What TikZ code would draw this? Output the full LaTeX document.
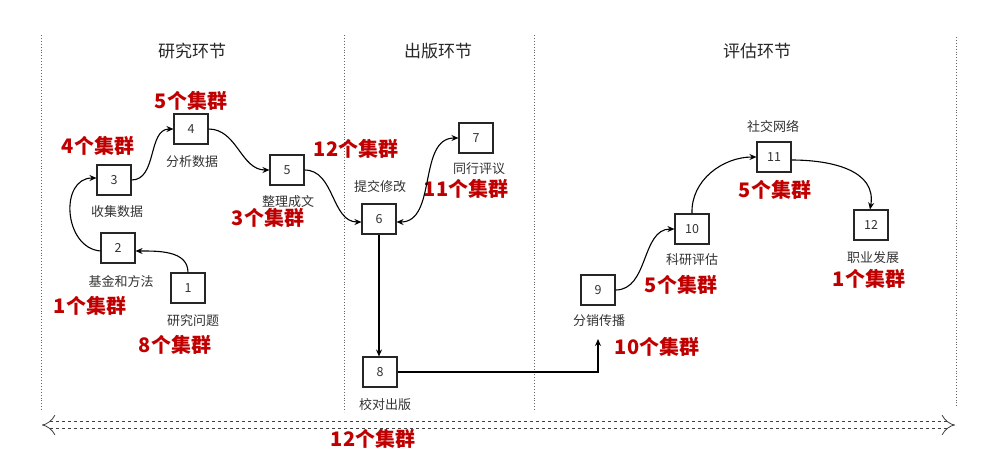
\documentclass[tikz,border=0pt]{standalone}
\usepackage{fontspec}
\setmainfont{Noto Sans CJK SC}
\usetikzlibrary{arrows.meta}
\definecolor{cred}{HTML}{C00000}
\definecolor{cgray}{HTML}{333333}
\begin{document}
\begin{tikzpicture}[x=1pt,y=-1pt,
  box/.style={draw=black!85,line width=1.1pt,minimum width=34pt,minimum height=30pt,inner sep=0pt,font=\fontsize{12.5}{12.5}\selectfont,text=cgray},
  lab/.style={font=\fontsize{13}{13}\selectfont,text=cgray,inner sep=0pt},
  red/.style={font=\fontsize{20}{20}\bfseries\selectfont,text=cred,inner sep=0pt},
  head/.style={font=\fontsize{17}{17}\selectfont,text=black!85,inner sep=0pt},
  sep/.style={draw=black!60,dotted,line width=0.9pt},
  arr/.style={-{Stealth[length=7pt,width=6pt]},line width=1.1pt,black}
]
\useasboundingbox (0,0) rectangle (993,459);
\fill[white] (0,0) rectangle (993,459);
% separators
\coordinate (s1a) at (41,35); \coordinate (s1b) at (41,410);
\coordinate (s2a) at (344,35); \coordinate (s2b) at (344,412);
\coordinate (s3a) at (534,35); \coordinate (s3b) at (534,412);
\coordinate (s4a) at (956,37); \coordinate (s4b) at (956,407);
\draw[sep] (s1a) -- (s1b);
\draw[sep] (s2a) -- (s2b);
\draw[sep] (s3a) -- (s3b);
\draw[sep] (s4a) -- (s4b);
% headers
\node[head] (h1) at (192,51) {研究环节};
\node[head] (h2) at (438,51) {出版环节};
\node[head] (h3) at (757,51) {评估环节};
% boxes
\node[box] (n1) at (188,288) {1};
\node[box] (n2) at (118,248) {2};
\node[box] (n3) at (114,180) {3};
\node[box] (n4) at (191,129) {4};
\node[box] (n5) at (287,170) {5};
\node[box] (n6) at (379,219) {6};
\node[box] (n7) at (476,138) {7};
\node[box] (n8) at (380,372) {8};
\node[box] (n9) at (598,290) {9};
\node[box] (n10) at (692,229) {10};
\node[box] (n11) at (774,157) {11};
\node[box] (n12) at (871,225) {12};
% labels
\node[lab] (l1) at (193,321) {研究问题};
\node[lab] (l2) at (121,282) {基金和方法};
\node[lab] (l3) at (117,212) {收集数据};
\node[lab] (l4) at (192,162) {分析数据};
\node[lab] (l5) at (288,202) {整理成文};
\node[lab] (l6) at (380,187) {提交修改};
\node[lab] (l7) at (479,169) {同行评议};
\node[lab] (l8) at (385,405) {校对出版};
\node[lab] (l9) at (599,321) {分销传播};
\node[lab] (l10) at (692,260) {科研评估};
\node[lab] (l11) at (773,126) {社交网络};
\node[lab] (l12) at (873,258) {职业发展};
% red counts
\node[red] (r4) at (191,101) {5个集群};
\node[red] (r3) at (98,146) {4个集群};
\node[red] (r56) at (356,149) {12个集群};
\node[red] (r5) at (268,218) {3个集群};
\node[red] (r2) at (90,306) {1个集群};
\node[red] (r1) at (175,345) {8个集群};
\node[red] (r7) at (466,189) {11个集群};
\node[red] (rall) at (373,439) {12个集群};
\node[red] (r9) at (657,347) {10个集群};
\node[red] (r10) at (681,285) {5个集群};
\node[red] (r11) at (775,190) {5个集群};
\node[red] (r12) at (869,279) {1个集群};
% connectors
\draw[arr] (n1.north) to[out=90,in=0] ([yshift=-3pt]n2.east);
\draw[arr] ([yshift=-3pt]n2.west) to[out=175,in=180,looseness=1.3] ([yshift=2pt]n3.west);
\draw[arr] (n3.east) to[out=0,in=180] (n4.west);
\draw[arr] (n4.east) to[out=0,in=180] (n5.west);
\draw[arr] (n5.east) to[out=0,in=180] ([yshift=-3pt]n6.west);
\draw[{Stealth[length=7pt,width=6pt]}-{Stealth[length=7pt,width=6pt]},line width=1.1pt] ([yshift=-3pt]n6.east) to[out=0,in=180] (n7.west);
\draw[arr] (n6.south) -- (n6.south |- n8.north);
\coordinate (c9) at (598,339);
\draw[arr] (n8.east) -| (c9);
\draw[arr] (n9.east) to[out=0,in=180] (n10.west);
\draw[arr] (n10.north) to[out=92,in=180] (n11.west);
\draw[arr] ([yshift=-3pt]n11.east) to[out=0,in=80,looseness=1.1] ([xshift=-1pt]n12.north);
% bottom span arrow
\coordinate (ba) at (42,425);
\coordinate (bb) at (955,425);
\draw[dashed,double=white,double distance=6.5pt,line width=0.8pt,draw=black!75,{Implies[]}-{Implies[]}] (ba) -- (bb);
\end{tikzpicture}
\end{document}
